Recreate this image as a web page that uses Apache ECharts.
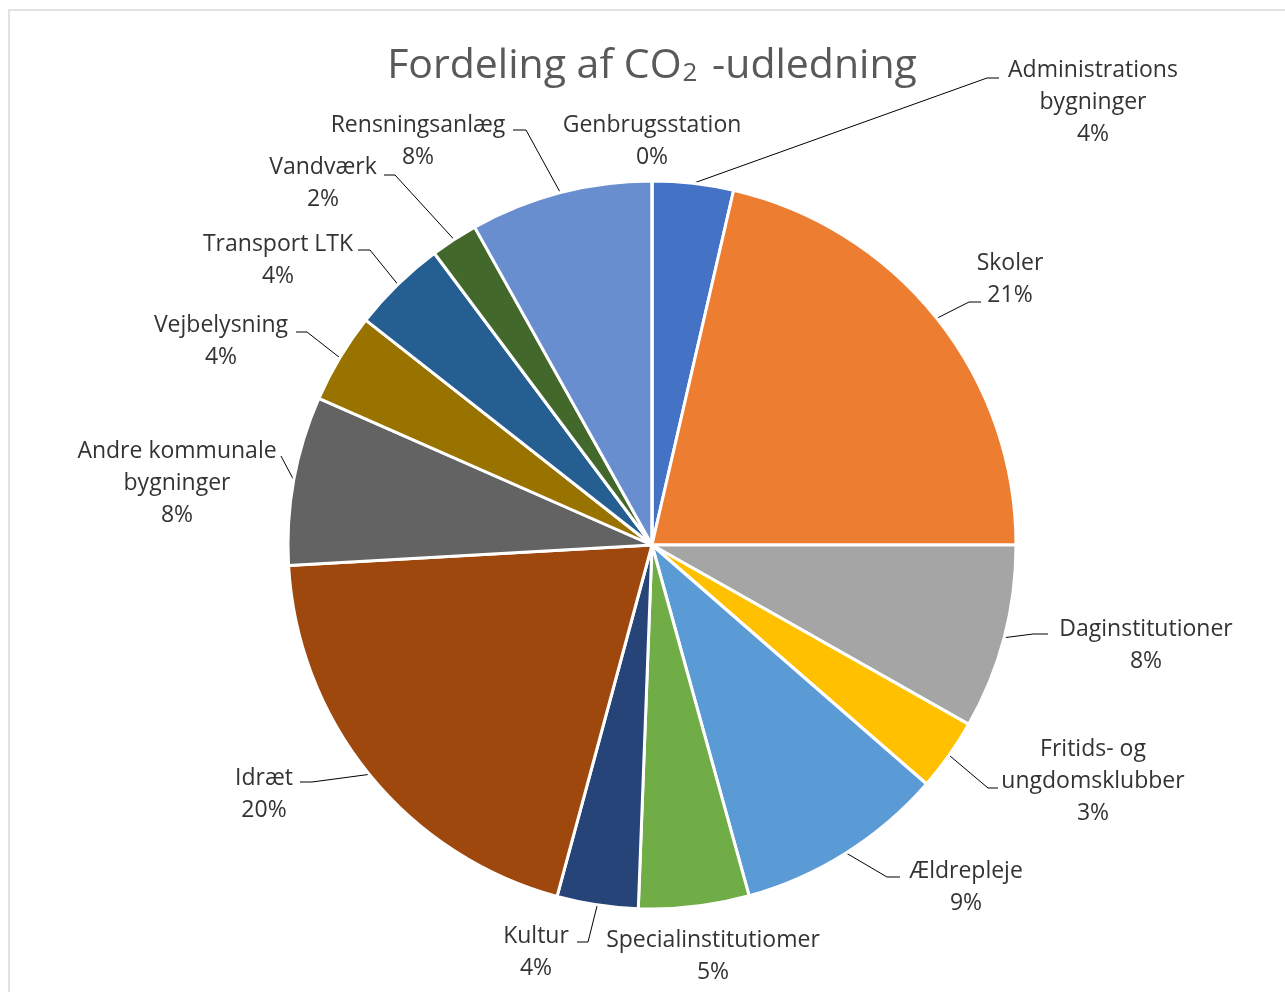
<!DOCTYPE html>
<html><head><meta charset="utf-8">
<script src="https://cdn.jsdelivr.net/npm/echarts@6/dist/echarts.min.js"></script>
<style>html,body{margin:0;padding:0;background:#fff}#c{width:1285px;height:992px}</style>
</head><body><div id="c"></div>
<script>
// Data
const categories = ['Administrations\nbygninger','Skoler','Daginstitutioner','Fritids- og\nungdomsklubber','Ældrepleje','Specialinstitutiomer','Kultur','Idræt','Andre kommunale\nbygninger','Vejbelysning','Transport LTK','Vandværk','Rensningsanlæg','Genbrugsstation'];
const values = [3.6, 21.4, 8.2, 3.2, 9.3, 4.9, 3.6, 19.9, 7.5, 4.0, 4.2, 2.1, 8.1, 0];
const colors = ['#4472C4','#ED7D31','#A5A5A5','#FFC000','#5B9BD5','#70AD47','#264478','#9E480E','#636363','#997300','#255E91','#43682B','#698ED0','#F1975A'];

// Label layout (label centre, leader bend, leader end) in pixels
const labelSpec = [
  [1093, 102, 987, 78, 999, 78],
  [1010, 279, 969, 302, 981, 302],
  [1146, 645, 1033, 634, 1048, 634],
  [1093, 781, 988, 788, 998, 788],
  [966, 887, 887, 877, 900, 877],
  [713, 956],
  [536, 952, 588, 942, 577, 942],
  [264, 794, 312, 782, 300, 782],
  [177, 483, 282, 458, 281, 456],
  [221, 341, 307, 332, 296, 332],
  [278, 260, 370, 250, 358, 250],
  [323, 183, 395, 175, 384, 175],
  [418, 141, 526, 130, 513, 130],
  [652, 141]
];

const chart = echarts.init(document.getElementById('c'));
const data = categories.map((n, i) => {
  const d = { name: n, value: values[i], itemStyle: { color: colors[i] } };
  if (labelSpec[i].length < 3) d.labelLine = { show: false };
  return d;
});
chart.setOption({
  animation: false,
  graphic: [{
    type: 'rect', shape: { x: 9, y: 10, width: 1300, height: 1000 },
    style: { fill: 'none', stroke: '#D9D9D9', lineWidth: 1.5 }, silent: true, z: -1
  }],
  title: {
    text: '{a|Fordeling af CO}{b|2}{a| -udledning}',
    left: 652, top: 39, textAlign: 'center', padding: 0,
    textStyle: {
      fontWeight: 'normal',
      rich: {
        a: { fontFamily: 'Open Sans', fontSize: 41, fontWeight: 'normal', color: '#595959', lineHeight: 48, verticalAlign: 'bottom' },
        b: { fontFamily: 'Open Sans', fontSize: 26, fontWeight: 'normal', color: '#595959', lineHeight: 12, verticalAlign: 'bottom', padding: [0, 4, 0, 1] }
      }
    }
  },
  series: [{
    type: 'pie',
    center: [652, 545],
    radius: [0, 364],
    startAngle: 90,
    clockwise: true,
    avoidLabelOverlap: false,
    itemStyle: { borderColor: '#fff', borderWidth: 3 },
    label: {
      show: true, position: 'outside',
      formatter: p => p.name + '\n' + Math.round(p.percent) + '%',
      fontFamily: 'Open Sans', fontSize: 23, lineHeight: 32, color: '#333333', align: 'center'
    },
    labelLine: { show: true, length: 10, length2: 10, smooth: false, lineStyle: { color: '#000', width: 1 } },
    labelLayout: function (params) {
      const s = labelSpec[params.dataIndex];
      const res = { x: s[0], y: s[1], align: 'center', verticalAlign: 'middle' };
      if (s.length > 2 && params.labelLinePoints) {
        res.labelLinePoints = [params.labelLinePoints[0], [s[2], s[3]], [s[4], s[5]]];
      }
      return res;
    },
    emphasis: { disabled: true },
    data: data
  }]
});
</script></body></html>
